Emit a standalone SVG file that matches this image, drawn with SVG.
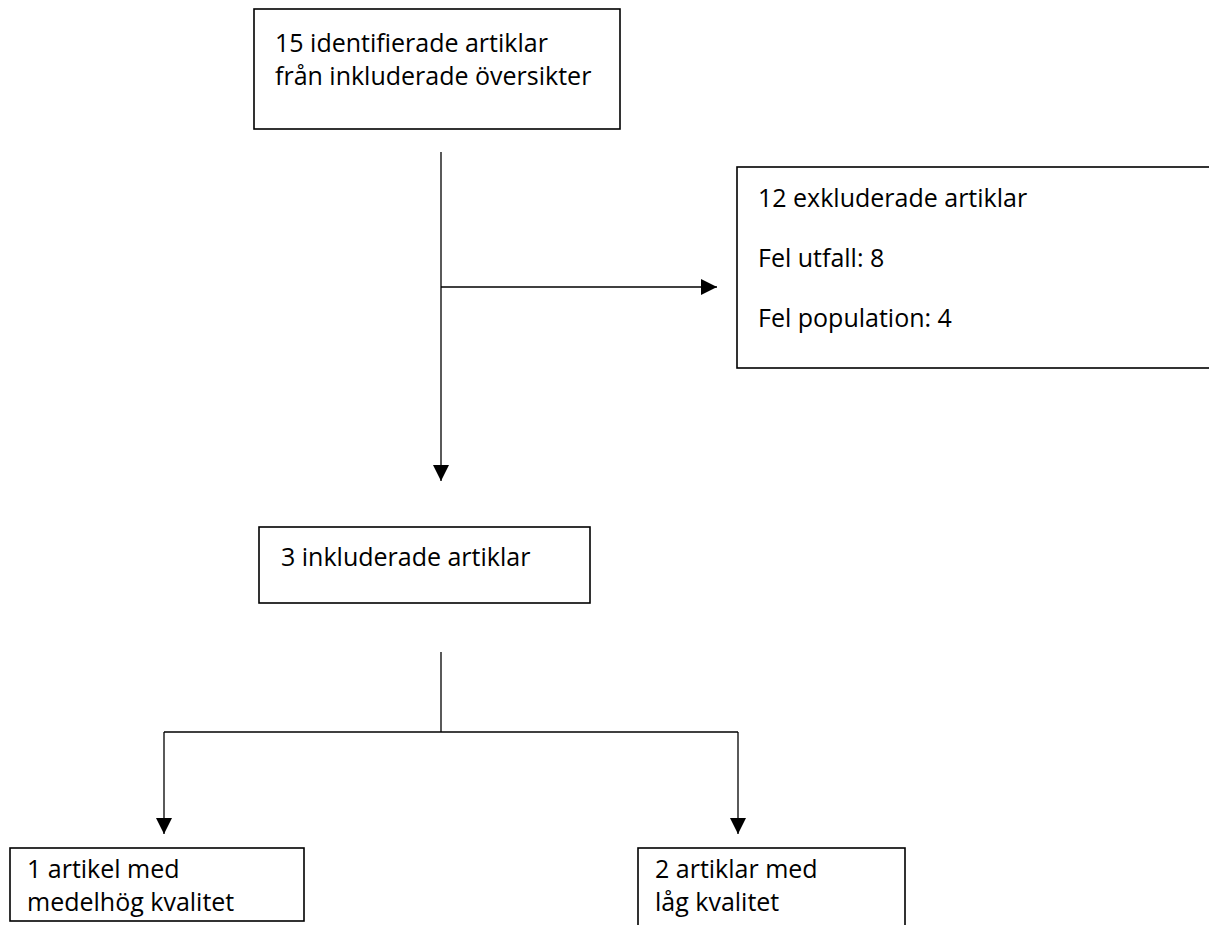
<svg xmlns="http://www.w3.org/2000/svg" width="1209" height="925" viewBox="0 0 1209 925">
<style>
.box{fill:#fff;stroke:#000;stroke-width:1.6}
.t{font-family:"Open Sans","Noto Sans","Liberation Sans",sans-serif;font-size:25px;fill:#000}
.c{fill:none;stroke:#000;stroke-width:1.3}
</style>
<defs>
<marker id="ah" viewBox="0 0 16 16" refX="16" refY="8" markerWidth="16" markerHeight="16" markerUnits="userSpaceOnUse" orient="auto">
<path d="M0,0 L16,8 L0,16 Z" fill="#000"/>
</marker>
</defs>
<rect width="1209" height="925" fill="#fff"/>
<g id="connectors">
<line class="c" x1="441" y1="152" x2="441" y2="481" marker-end="url(#ah)"/>
<line class="c" x1="441" y1="287" x2="717" y2="287" marker-end="url(#ah)"/>
<line class="c" x1="441" y1="652" x2="441" y2="732"/>
<line class="c" x1="164" y1="732" x2="738" y2="732"/>
<line class="c" x1="164" y1="732" x2="164" y2="834" marker-end="url(#ah)"/>
<line class="c" x1="738" y1="732" x2="738" y2="834" marker-end="url(#ah)"/>
</g>
<g id="n1">
<rect class="box" x="254" y="9" width="366" height="120"/>
<text class="t" x="275" y="52">15 identifierade artiklar</text>
<text class="t" x="275" y="85">från inkluderade översikter</text>
</g>
<g id="n2">
<rect class="box" x="737" y="167" width="480" height="201"/>
<text class="t" x="758" y="207">12 exkluderade artiklar</text>
<text class="t" x="758" y="267">Fel utfall: 8</text>
<text class="t" x="758" y="327">Fel population: 4</text>
</g>
<g id="n3">
<rect class="box" x="259" y="527" width="331" height="76"/>
<text class="t" x="281" y="566">3 inkluderade artiklar</text>
</g>
<g id="n4">
<rect class="box" x="10" y="848" width="294" height="73"/>
<text class="t" x="27" y="878">1 artikel med</text>
<text class="t" x="27" y="911">medelhög kvalitet</text>
</g>
<g id="n5">
<rect class="box" x="638" y="848" width="267" height="100"/>
<text class="t" x="655" y="878">2 artiklar med</text>
<text class="t" x="655" y="911">låg kvalitet</text>
</g>
</svg>
